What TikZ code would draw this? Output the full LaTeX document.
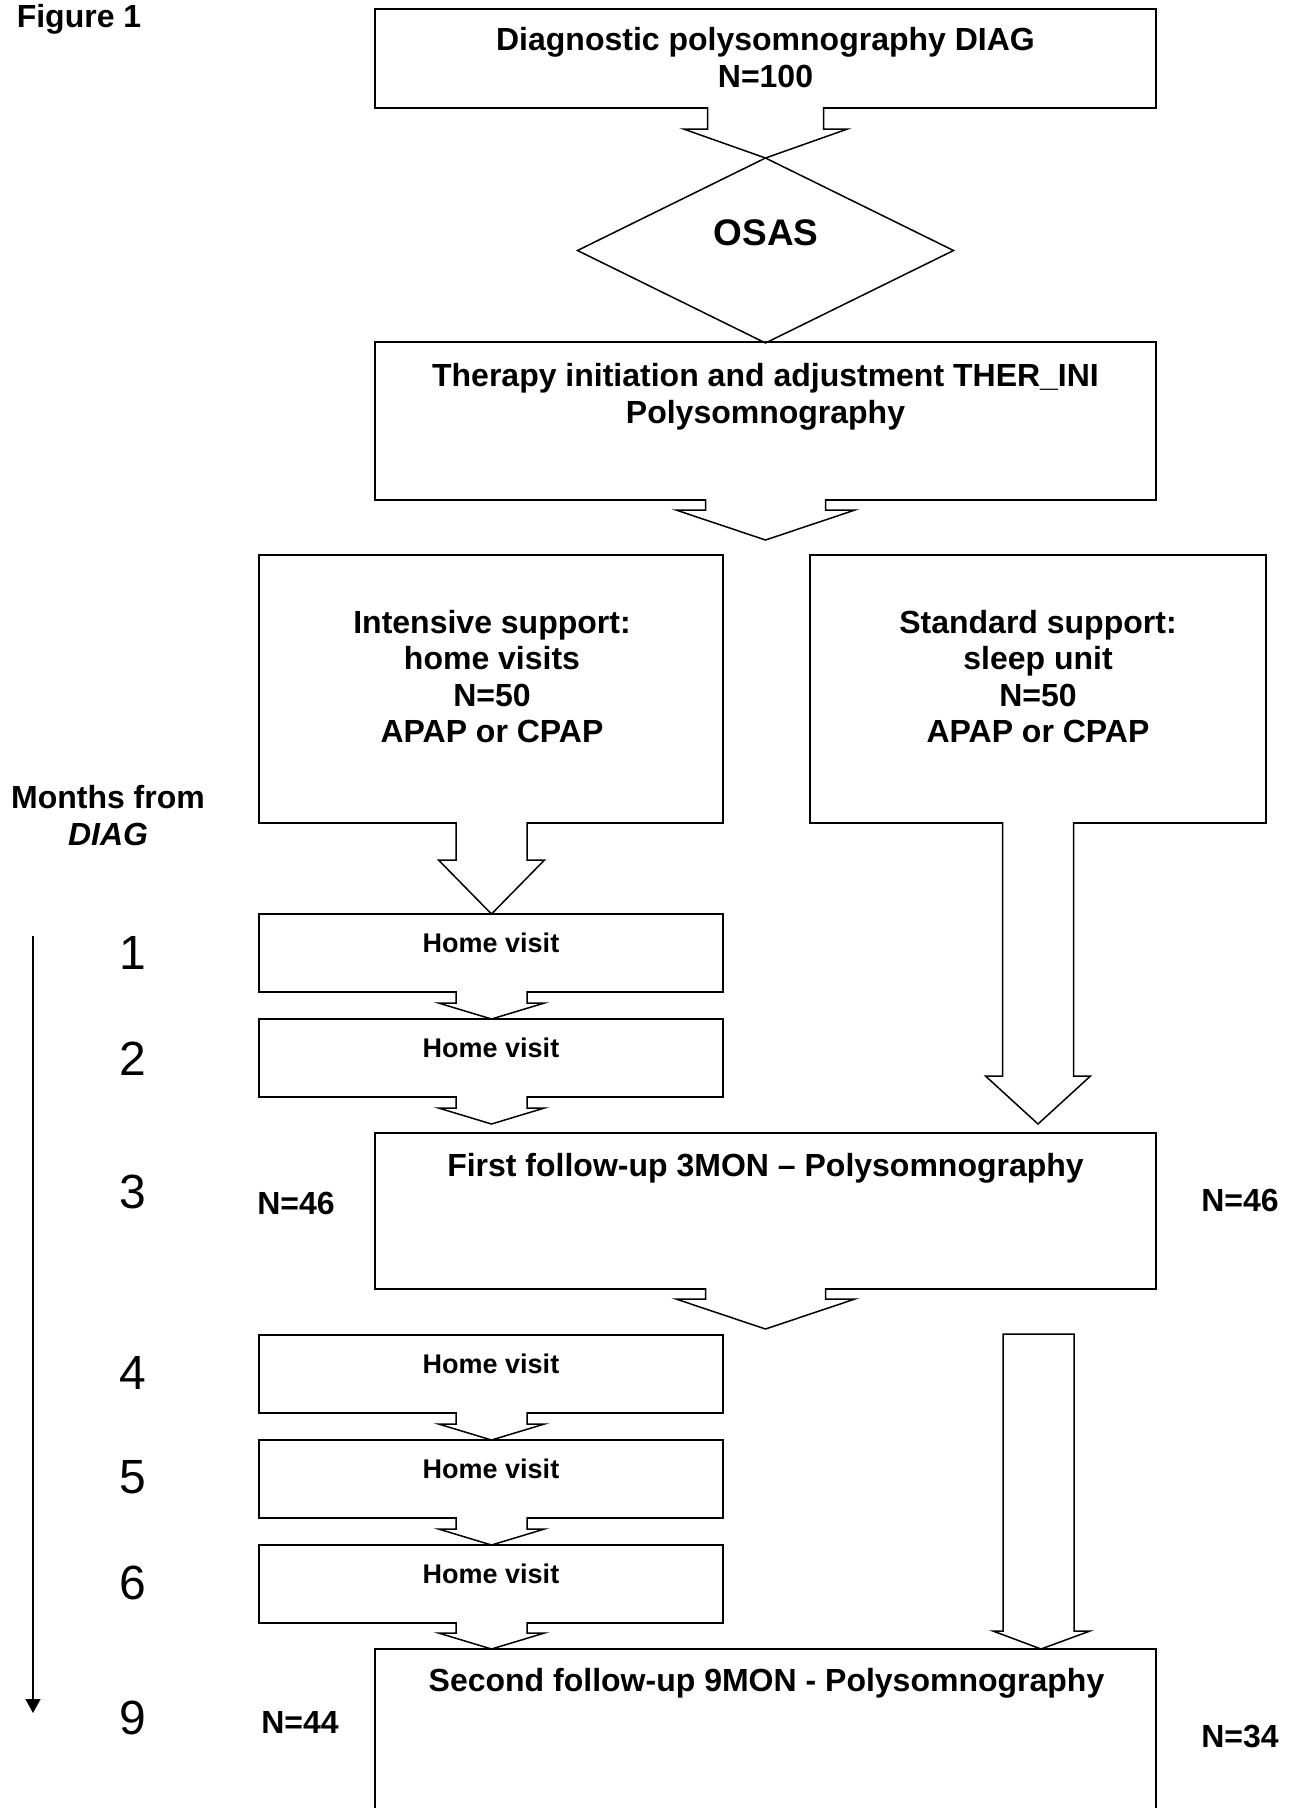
\documentclass[tikz,border=0pt]{standalone}
\usepackage{fontspec}
\setmainfont{Liberation Sans}
\usetikzlibrary{calc,shapes.geometric,arrows.meta}

% Hollow block arrow pointing down from a box to the next one.
% #1 source node, #2 target node, #3 x of the arrow axis,
% #4 half shaft width, #5 half head width,
% #6 shaft length below the source, #7 gap left above the target
\newcommand\blockdown[7]{%
  \draw[blockarrow]
    ($(#3-#4,0 |- #1.south)+(0pt,1pt)$)
    -- ($(#3-#4,0 |- #1.south)+(0pt,-#6pt)$)
    -- ($(#3-#5,0 |- #1.south)+(0pt,-#6pt)$)
    -- ($(#3,0 |- #2.north)+(0pt,#7pt)$)
    -- ($(#3+#5,0 |- #1.south)+(0pt,-#6pt)$)
    -- ($(#3+#4,0 |- #1.south)+(0pt,-#6pt)$)
    -- ($(#3+#4,0 |- #1.south)+(0pt,1pt)$);
}

\begin{document}
\begin{tikzpicture}[x=1pt,y=-1pt,
  flowbox/.style={draw, line width=1.5pt, outer sep=0pt, inner sep=0pt, anchor=north west},
  decision/.style={draw, shape=diamond, line width=1.5pt, outer sep=0pt, inner sep=0pt,
                   minimum width=376pt, minimum height=185pt},
  blockarrow/.style={draw, fill=white, line width=1.5pt, line join=miter},
  timeline/.style={line width=1.5pt, -{Triangle[length=14pt,width=15pt]}},
  maintext/.style={inner sep=0pt, align=center, font=\fontsize{32}{37}\selectfont\bfseries},
  supporttext/.style={inner sep=0pt, align=center, font=\fontsize{32}{36.5}\selectfont\bfseries},
  hvtext/.style={inner sep=0pt, anchor=north, font=\fontsize{27}{32}\selectfont\bfseries},
  numtext/.style={inner sep=0pt, font=\fontsize{48}{56}\selectfont},
  nlabel/.style={inner sep=0pt, font=\fontsize{32}{37}\selectfont\bfseries}]

\useasboundingbox (0,0) rectangle (1295,1808);
\fill[white] (0,0) rectangle (1295,1808);
\clip (0,0) rectangle (1295,1808);

% boxes
\node[flowbox, minimum width=781pt, minimum height=99pt]  (diag)      at (375,9)    {};
\node[decision] (osas) at (765.5,250.5) {};
\node[flowbox, minimum width=781pt, minimum height=158pt] (ther)      at (375,342)  {};
\node[flowbox, minimum width=464pt, minimum height=268pt] (intensive) at (259,555)  {};
\node[flowbox, minimum width=456pt, minimum height=268pt] (standard)  at (810,555)  {};
\node[flowbox, minimum width=464pt, minimum height=78pt]  (hv1)       at (259,914)  {};
\node[flowbox, minimum width=464pt, minimum height=78pt]  (hv2)       at (259,1019) {};
\node[flowbox, minimum width=781pt, minimum height=156pt] (first)     at (375,1133) {};
\node[flowbox, minimum width=464pt, minimum height=78pt]  (hv4)       at (259,1335) {};
\node[flowbox, minimum width=464pt, minimum height=78pt]  (hv5)       at (259,1440) {};
\node[flowbox, minimum width=464pt, minimum height=78pt]  (hv6)       at (259,1545) {};
\node[flowbox, minimum width=781pt, minimum height=220pt] (second)    at (375,1649) {};

% box texts
\node[maintext, anchor=north] (diagtext) at ($(diag.north)+(0pt,-18pt)$)
  {Diagnostic polysomnography DIAG\\N=100};
\node[inner sep=0pt, font=\fontsize{37}{42}\selectfont\bfseries] (osastext) at (766,233) {OSAS};
\node[maintext, anchor=north] (thertext) at ($(ther.north)+(0pt,-21.5pt)$)
  {Therapy initiation and adjustment THER\_INI\\Polysomnography};
\node[supporttext, anchor=north] (intensivetext) at ($(intensive.north)+(1pt,-55pt)$)
  {Intensive support:\\home visits\\N=50\\APAP or CPAP};
\node[supporttext, anchor=north] (standardtext) at ($(standard.north)+(0pt,-55pt)$)
  {Standard support:\\sleep unit\\N=50\\APAP or CPAP};
\node[hvtext] (hv1text) at ($(hv1.north)+(0pt,-19pt)$) {Home visit};
\node[hvtext] (hv2text) at ($(hv2.north)+(0pt,-19pt)$) {Home visit};
\node[hvtext] (hv4text) at ($(hv4.north)+(0pt,-19pt)$) {Home visit};
\node[hvtext] (hv5text) at ($(hv5.north)+(0pt,-19pt)$) {Home visit};
\node[hvtext] (hv6text) at ($(hv6.north)+(0pt,-19pt)$) {Home visit};
\node[maintext, anchor=north] (firsttext) at ($(first.north)+(0pt,-20.5pt)$)
  {First follow-up 3MON – Polysomnography};
\node[maintext, anchor=north] (secondtext) at ($(second.north)+(1pt,-19pt)$)
  {Second follow-up 9MON - Polysomnography};

% block arrows between the boxes
\blockdown{diag}{osas}{765.5}{58}{82}{21}{0}
\blockdown{ther}{intensive}{765.5}{60}{89.5}{10}{15}
\blockdown{intensive}{hv1}{491.5}{35.5}{53}{37}{0}
\blockdown{hv1}{hv2}{491.5}{35.5}{53}{11}{0}
\blockdown{hv2}{first}{491.5}{35.5}{53}{11}{9}
\blockdown{standard}{first}{1038}{35.5}{52.5}{253}{9}
\blockdown{first}{hv4}{765.5}{60}{89.5}{10}{6}
\blockdown{hv4}{hv5}{491.5}{35.5}{53}{11}{0}
\blockdown{hv5}{hv6}{491.5}{35.5}{53}{11}{0}
\blockdown{hv6}{second}{491.5}{35.5}{53}{10}{0}

% free-standing arrow of the standard-support arm
\coordinate (stdtop) at (1038.5,1334);
\draw[blockarrow]
  ($(stdtop)+(-35.5,0)$) -- ($(stdtop)+(-35.5,297)$) -- ($(stdtop)+(-45.5,297)$)
  -- ($(1041,0 |- second.north)$)
  -- ($(stdtop)+(51.5,297)$) -- ($(stdtop)+(35.5,297)$) -- ($(stdtop)+(35.5,0)$) -- cycle;

% heading and time axis
\node[nlabel, anchor=north] (figtitle) at (79,4) {Figure 1};
\node[maintext, anchor=north] (months) at (108,785) {Months from\\\textit{DIAG}};
\coordinate (tstart) at (33,936);
\coordinate (tend) at (33,1713);
\draw[timeline] (tstart) -- (tend);

\node[numtext] (m1) at (133,953)  {1};
\node[numtext] (m2) at (133,1059) {2};
\node[numtext] (m3) at (133,1192) {3};
\node[numtext] (m4) at (133,1373) {4};
\node[numtext] (m5) at (133,1477) {5};
\node[numtext] (m6) at (133,1583) {6};
\node[numtext] (m9) at (133,1718) {9};

% group sizes at each follow-up
\node[nlabel] (n3left)  at (296,1203)  {N=46};
\node[nlabel] (n3right) at (1240,1200) {N=46};
\node[nlabel] (n9left)  at (300,1722)  {N=44};
\node[nlabel] (n9right) at (1240,1736) {N=34};

\end{tikzpicture}
\end{document}
